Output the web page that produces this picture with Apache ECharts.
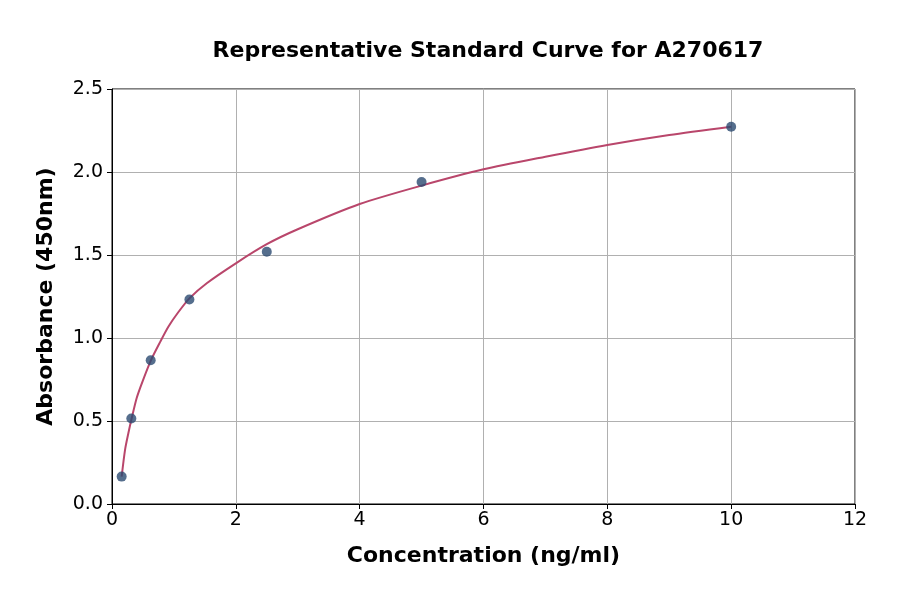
<!DOCTYPE html>
<html>
<head>
<meta charset="utf-8">
<script src="https://cdn.jsdelivr.net/npm/echarts@6/dist/echarts.min.js"></script>
<style>
html,body{margin:0;padding:0;background:#fff;}
#chart{width:900px;height:594px;}
</style>
</head>
<body>
<div id="chart"></div>
<script>
// Standard points
var concentrations = [0.156, 0.312, 0.625, 1.25, 2.5, 5, 10];
var absorbances = [0.165, 0.515, 0.866, 1.232, 1.52, 1.94, 2.273];
// Fitted curve
var curveX = [0.156, 0.21, 0.264, 0.318, 0.4, 0.5, 0.63, 0.78, 0.91, 1.07, 1.25, 1.53, 2.0, 2.5, 3.0, 4.0, 5.0, 6.0, 7.0, 8.0, 9.0, 10.0];
var curveY = [0.165, 0.325, 0.426, 0.516, 0.64, 0.745, 0.867, 0.978, 1.068, 1.155, 1.239, 1.33, 1.45, 1.565, 1.655, 1.807, 1.918, 2.016, 2.092, 2.163, 2.223, 2.273];
var xTicks = [0, 2, 4, 6, 8, 10, 12];
var yTicks = [0.0, 0.5, 1.0, 1.5, 2.0, 2.5];

var points = concentrations.map(function(x, i){ return [x, absorbances[i]]; });
var curve = curveX.map(function(x, i){ return [x, curveY[i]]; });

var font = 'DejaVu Sans';
var chart = echarts.init(document.getElementById('chart'));
chart.setOption({
  animation: false,
  backgroundColor: '#ffffff',
  title: {
    text: 'Representative Standard Curve for A270617',
    left: 483, top: 35, textAlign: 'center',
    textStyle: {fontFamily: font, fontWeight: 'bold', fontSize: 22, color: '#000'}
  },
  grid: {left: 112, right: 45, top: 89, bottom: 90, show: true, borderColor: '#000', borderWidth: 1},
  xAxis: {
    type: 'value', min: xTicks[0], max: xTicks[xTicks.length-1], interval: 2,
    name: 'Concentration (ng/ml)', nameLocation: 'middle', nameGap: 41,
    nameTextStyle: {fontFamily: font, fontWeight: 'bold', fontSize: 22, color: '#000'},
    axisLine: {show: true, onZero: false, lineStyle: {color: '#000', width: 1}},
    axisTick: {show: true, length: 5, lineStyle: {color: '#000'}},
    axisLabel: {fontFamily: font, fontSize: 19, color: '#000', margin: 7},
    splitLine: {show: true, lineStyle: {color: '#b0b0b0', width: 1}}
  },
  yAxis: {
    type: 'value', min: yTicks[0], max: yTicks[yTicks.length-1], interval: 0.5,
    name: 'Absorbance (450nm)', nameLocation: 'middle', nameGap: 55,
    nameTextStyle: {fontFamily: font, fontWeight: 'bold', fontSize: 22, color: '#000'},
    axisLine: {show: true, onZero: false, lineStyle: {color: '#000', width: 1}},
    axisTick: {show: true, length: 5, lineStyle: {color: '#000'}},
    axisLabel: {fontFamily: font, fontSize: 19, color: '#000', margin: 9,
      formatter: function(v){ return v.toFixed(1); }},
    splitLine: {show: true, lineStyle: {color: '#b0b0b0', width: 1}}
  },
  series: [
    {
      type: 'line', data: curve, smooth: 0.25, showSymbol: false,
      lineStyle: {color: '#b9466b', width: 2}, z: 2
    },
    {
      type: 'scatter', data: points, symbolSize: 10,
      itemStyle: {color: '#2a4a70'}, z: 3
    }
  ]
});
</script>
</body>
</html>
